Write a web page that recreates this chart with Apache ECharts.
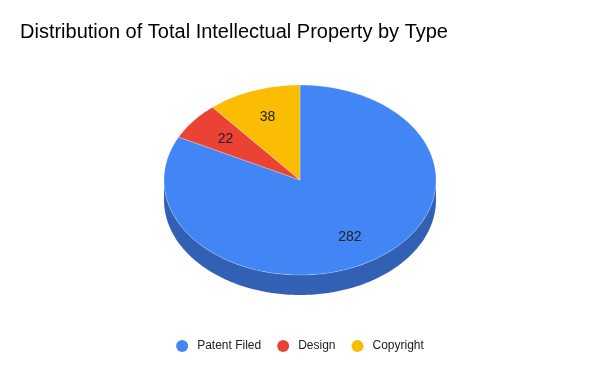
<!DOCTYPE html>
<html><head><meta charset="utf-8">
<script src="https://cdn.jsdelivr.net/npm/echarts@6/dist/echarts.min.js"></script>
<style>html,body{margin:0;padding:0;background:#fff}#c{width:600px;height:371px}</style>
</head><body><div id="c"></div>
<script>
const categories = ['Patent Filed', 'Design', 'Copyright'];
const values = [282, 22, 38];
const colors = ['#4285f4', '#ea4335', '#fbbc04'];
const sideColors = ['#3160b4', '#b3261e', '#c29100'];

const total = values.reduce((a, b) => a + b, 0);
const CX = 300, CY = 180, RX = 136, RY = 95, DEPTH = 20;
const D2R = Math.PI / 180;
function pt(theta, dy) {
  return [CX + RX * Math.sin(theta * D2R), CY - RY * Math.cos(theta * D2R) + (dy || 0)];
}
function arc(a0, a1, dy) {
  const pts = [];
  const n = Math.max(2, Math.ceil((a1 - a0) / 1));
  for (let i = 0; i <= n; i++) pts.push(pt(a0 + (a1 - a0) * i / n, dy));
  return pts;
}

let cum = 0;
const series = categories.map((name, i) => {
  const start = cum;
  cum += values[i];
  return {
    type: 'custom',
    name: name,
    coordinateSystem: 'none',
    itemStyle: { color: colors[i] },
    data: [[values[i], start, total]],
    renderItem: function (params, api) {
      const v = api.value(0), s = api.value(1), t = api.value(2);
      const a0 = s / t * 360, a1 = (s + v) / t * 360;
      const children = [];
      const lo = Math.max(a0, 90), hi = Math.min(a1, 270);
      if (hi > lo) {
        const top = arc(lo, hi, 0);
        const bot = arc(lo, hi, DEPTH).reverse();
        children.push({ type: 'polygon', shape: { points: top.concat(bot) },
          style: { fill: sideColors[params.seriesIndex] } });
      }
      children.push({ type: 'polygon', shape: { points: [[CX, CY]].concat(arc(a0, a1, 0)) },
        style: { fill: colors[params.seriesIndex], stroke: 'rgba(255,255,255,0.5)', lineWidth: 0.5 } });
      const mid = (a0 + a1) / 2;
      children.push({ type: 'text', x: CX + 0.7 * RX * Math.sin(mid * D2R), y: CY - 0.7 * RY * Math.cos(mid * D2R),
        style: { text: String(v), fill: '#222', font: '14px Arial, "Liberation Sans"', align: 'center', verticalAlign: 'middle' } });
      return { type: 'group', children: children };
    }
  };
});

const chart = echarts.init(document.getElementById('c'));
chart.setOption({
  animation: false,
  title: { text: 'Distribution of Total Intellectual Property by Type', left: 15, top: 17,
    textStyle: { fontFamily: 'Arial, "Liberation Sans"', fontSize: 20, fontWeight: 'normal', color: '#000' } },
  legend: { data: categories, icon: 'circle', top: 335, left: 'center', itemWidth: 20, itemHeight: 12, itemGap: 16,
    selectedMode: false,
    textStyle: { fontFamily: 'Arial, "Liberation Sans"', fontSize: 12, color: '#222' } },
  series: series
});
</script></body></html>
